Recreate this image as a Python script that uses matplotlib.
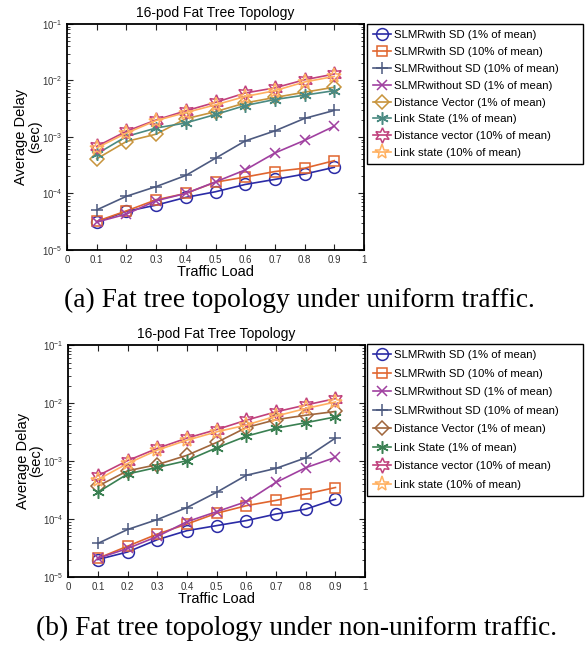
import numpy as np
import matplotlib.pyplot as plt
from matplotlib.ticker import LogLocator, FixedLocator

plt.rcParams['font.family'] = ['Liberation Sans', 'DejaVu Sans']

load = [0.1, 0.2, 0.3, 0.4, 0.5, 0.6, 0.7, 0.8, 0.9]

# (a) uniform traffic
a_slmr_sd_1 = [3.1e-5, 4.8e-5, 6.2e-5, 8.5e-5, 1.07e-4, 1.44e-4, 1.77e-4, 2.2e-4, 2.9e-4]
a_slmr_sd_10 = [3.2e-5, 4.9e-5, 7.7e-5, 1.0e-4, 1.58e-4, 1.95e-4, 2.44e-4, 2.8e-4, 3.8e-4]
a_slmr_nosd_10 = [5.1e-5, 8.9e-5, 1.32e-4, 2.08e-4, 4.2e-4, 8.5e-4, 1.28e-3, 2.13e-3, 2.95e-3]
a_slmr_nosd_1 = [3.1e-5, 4.3e-5, 7.4e-5, 1.0e-4, 1.6e-4, 2.6e-4, 5.2e-4, 8.7e-4, 1.55e-3]
a_dv_1 = [4.1e-4, 8.3e-4, 1.12e-3, 2.1e-3, 2.8e-3, 4.0e-3, 5.0e-3, 6.2e-3, 7.6e-3]
a_ls_1 = [5.0e-4, 1.02e-3, 1.44e-3, 1.77e-3, 2.5e-3, 3.6e-3, 4.6e-3, 5.5e-3, 6.6e-3]
a_dv_10 = [6.8e-4, 1.26e-3, 2.0e-3, 2.9e-3, 4.1e-3, 6.0e-3, 7.4e-3, 1.03e-2, 1.3e-2]
a_ls_10 = [6.4e-4, 1.17e-3, 1.95e-3, 2.7e-3, 3.7e-3, 5.2e-3, 6.6e-3, 9.4e-3, 1.18e-2]

# (b) non-uniform traffic
b_slmr_sd_1 = [2.0e-5, 2.7e-5, 4.4e-5, 6.3e-5, 7.7e-5, 9.4e-5, 1.22e-4, 1.48e-4, 2.2e-4]
b_slmr_sd_10 = [2.1e-5, 3.4e-5, 5.5e-5, 8.2e-5, 1.26e-4, 1.7e-4, 2.1e-4, 2.7e-4, 3.5e-4]
b_slmr_nosd_1 = [2.1e-5, 3.1e-5, 5.0e-5, 9.0e-5, 1.34e-4, 2.0e-4, 4.3e-4, 7.7e-4, 1.16e-3]
b_slmr_nosd_10 = [3.8e-5, 6.6e-5, 9.8e-5, 1.58e-4, 2.9e-4, 5.7e-4, 7.5e-4, 1.14e-3, 2.5e-3]
b_dv_1 = [3.7e-4, 6.8e-4, 8.7e-4, 1.26e-3, 2.1e-3, 3.8e-3, 5.2e-3, 6.2e-3, 7.2e-3]
b_ls_1 = [2.9e-4, 6.0e-4, 7.8e-4, 1.02e-3, 1.7e-3, 2.7e-3, 3.7e-3, 4.6e-3, 5.8e-3]
b_dv_10 = [5.6e-4, 1.02e-3, 1.66e-3, 2.5e-3, 3.5e-3, 5.1e-3, 7.1e-3, 9.3e-3, 1.2e-2]
b_ls_10 = [4.8e-4, 9.1e-4, 1.55e-3, 2.3e-3, 3.2e-3, 4.2e-3, 6.0e-3, 8.1e-3, 1.05e-2]

xticks = [0, 0.1, 0.2, 0.3, 0.4, 0.5, 0.6, 0.7, 0.8, 0.9, 1]

# style per series name: (marker, size, colour)
styles = {
    'SLMRwith SD (1% of mean)': ('o', 8.5, '#2b2ba6'),
    'SLMRwith SD (10% of mean)': ('s', 7.5, '#e0652e'),
    'SLMRwithout SD (10% of mean)': ('+', 9, '#4d5a80'),
    'SLMRwithout SD (1% of mean)': ('x', 7, '#a040a0'),
    'Distance Vector (1% of mean)': ('D', 7, '#c8943c'),
    'Link State (1% of mean)': ((6, 2, 0), 9, '#4a8a82'),
    'Distance vector (10% of mean)': ((6, 1, 0), 11, '#c0407c'),
    'Link state (10% of mean)': ('*', 11, '#ffb060'),
}

series_a = [
    ('SLMRwith SD (1% of mean)', a_slmr_sd_1),
    ('SLMRwith SD (10% of mean)', a_slmr_sd_10),
    ('SLMRwithout SD (10% of mean)', a_slmr_nosd_10),
    ('SLMRwithout SD (1% of mean)', a_slmr_nosd_1),
    ('Distance Vector (1% of mean)', a_dv_1),
    ('Link State (1% of mean)', a_ls_1),
    ('Distance vector (10% of mean)', a_dv_10),
    ('Link state (10% of mean)', a_ls_10),
]
series_b = [
    ('SLMRwith SD (1% of mean)', b_slmr_sd_1),
    ('SLMRwith SD (10% of mean)', b_slmr_sd_10),
    ('SLMRwithout SD (1% of mean)', b_slmr_nosd_1),
    ('SLMRwithout SD (10% of mean)', b_slmr_nosd_10),
    ('Distance Vector (1% of mean)', b_dv_1),
    ('Link State (1% of mean)', b_ls_1),
    ('Distance vector (10% of mean)', b_dv_10),
    ('Link state (10% of mean)', b_ls_10),
]
b_colors = {'Distance Vector (1% of mean)': '#a0663c',
            'Link State (1% of mean)': '#3a8052'}

fig = plt.figure(figsize=(5.88, 6.49), dpi=100)
ax_a = fig.add_axes([0.114, 0.615, 0.505, 0.348])
ax_b = fig.add_axes([0.116, 0.111, 0.505, 0.357])


def draw(ax, series, overrides, leg_box, row_space):
    for name, vals in series:
        mk, ms, col = styles[name]
        col = overrides.get(name, col)
        ax.plot(load, vals, marker=mk, color=col, label=name, lw=1.2,
                ms=ms, mfc='none', mec=col, mew=1.1)
    ax.set_yscale('log')
    ax.set_ylim(1e-5, 1e-1)
    ax.set_xlim(0, 1)
    ax.xaxis.set_major_locator(FixedLocator(xticks))
    ax.set_xticklabels([('%g' % t) for t in xticks])
    ax.yaxis.set_major_locator(LogLocator(base=10, numticks=10))
    ax.yaxis.set_minor_locator(LogLocator(base=10, subs=np.arange(2, 10), numticks=50))
    ax.tick_params(which='both', direction='in', top=True, right=True,
                   labelsize=7, colors='#222222', labelcolor='#333333')
    ax.tick_params(which='major', length=4)
    ax.tick_params(which='minor', length=2)
    for sp in ax.spines.values():
        sp.set_linewidth(1.3)
    ax.set_title('16-pod Fat Tree Topology', fontsize=10, pad=5)
    ax.set_xlabel('Traffic Load', fontsize=10.5, labelpad=0)
    ax.set_ylabel('Average Delay\n(sec)', fontsize=10.5, linespacing=0.95)
    ax.yaxis.set_label_coords(-0.085, 0.5)
    ax.legend(loc='upper left', bbox_to_anchor=leg_box, mode='expand',
              bbox_transform=fig.transFigure, fontsize=8.2, fancybox=False,
              framealpha=1, edgecolor='black', borderpad=0.55,
              labelspacing=row_space, handlelength=1.6, handletextpad=0.2,
              borderaxespad=0)


draw(ax_a, series_a, {}, (0.624, 0.763, 0.368, 0.2), 0.6)
draw(ax_b, series_b, b_colors, (0.624, 0.27, 0.368, 0.2), 0.75)

fig.text(0.51, 0.537, '(a) Fat tree topology under uniform traffic.',
         ha='center', va='center', fontsize=19.8, family='Liberation Serif')
fig.text(0.505, 0.032, '(b) Fat tree topology under non-uniform traffic.',
         ha='center', va='center', fontsize=19.7, family='Liberation Serif')

fig.savefig('out.png', dpi=100)
